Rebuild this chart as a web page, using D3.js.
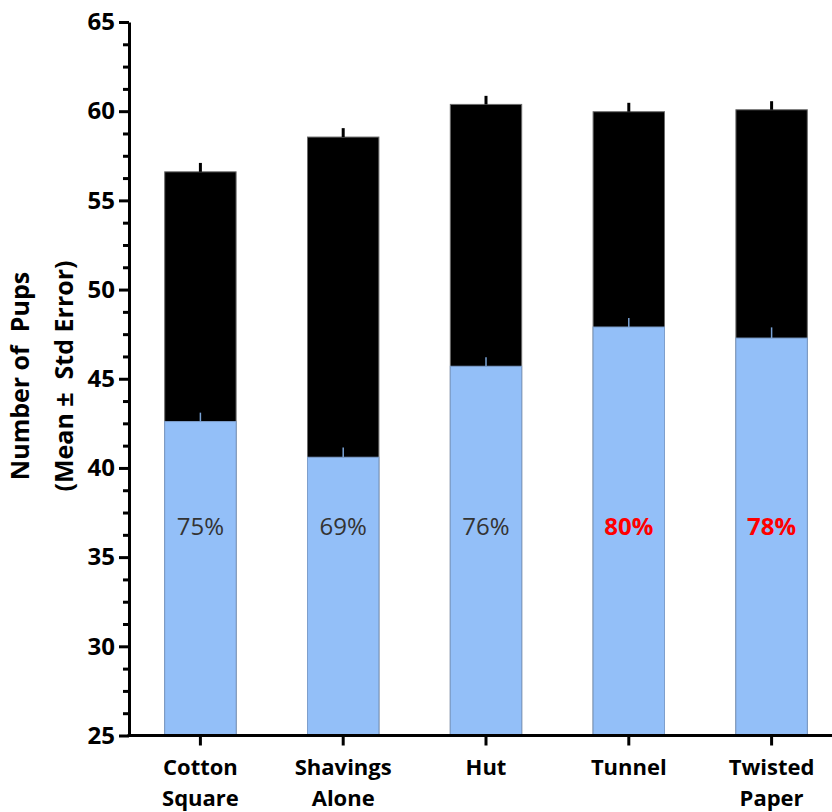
<!DOCTYPE html>
<html>
<head>
<meta charset="utf-8">
<script src="https://cdn.jsdelivr.net/npm/d3@7"></script>
<style>
	body { margin: 0; background: #fff; }
	svg text { font-family: "Open Sans", sans-serif; }
</style>
</head>
<body>
<svg id="chart" width="832" height="812"></svg>
<script>
var categories = [["Cotton", "Square"], ["Shavings", "Alone"], ["Hut"], ["Tunnel"], ["Twisted", "Paper"]];
var totalPups = [56.6, 58.55, 60.38, 59.97, 60.08];
var totalErr = [0.5, 0.5, 0.48, 0.5, 0.48];
var weanedPups = [42.6, 40.6, 45.7, 47.9, 47.28];
var weanedErr = [0.5, 0.55, 0.5, 0.5, 0.6];
var pctLabels = ["75%", "69%", "76%", "80%", "78%"];
var pctHighlight = [false, false, false, true, true];
var yTicks = [25, 30, 35, 40, 45, 50, 55, 60, 65];

var svg = d3.select("#chart");
var keys = categories.map(function(c) { return c.join(" "); });

var x = d3.scaleBand()
	.domain(keys)
	.range([129, 843])
	.paddingInner(0.5)
	.paddingOuter(0.25);

var y = d3.scaleLinear()
	.domain([25, 65])
	.range([735.5, 22]);

var base = y(25);

// black = total pups
svg.selectAll("rect.total")
	.data(totalPups)
	.enter().append("rect")
	.attr("class", "total")
	.attr("x", function(d, i) { return x(keys[i]); })
	.attr("width", x.bandwidth())
	.attr("y", function(d) { return y(d); })
	.attr("height", function(d) { return base - y(d); })
	.attr("fill", "#000")
	.attr("stroke", "#6b6b6b")
	.attr("stroke-width", 1);

svg.selectAll("line.totalErr")
	.data(totalPups)
	.enter().append("line")
	.attr("class", "totalErr")
	.attr("x1", function(d, i) { return x(keys[i]) + x.bandwidth() / 2; })
	.attr("x2", function(d, i) { return x(keys[i]) + x.bandwidth() / 2; })
	.attr("y1", function(d) { return y(d); })
	.attr("y2", function(d, i) { return y(d + totalErr[i]); })
	.attr("stroke", "#000")
	.attr("stroke-width", 3);

// blue = weaned pups
svg.selectAll("rect.weaned")
	.data(weanedPups)
	.enter().append("rect")
	.attr("class", "weaned")
	.attr("x", function(d, i) { return x(keys[i]); })
	.attr("width", x.bandwidth())
	.attr("y", function(d) { return y(d); })
	.attr("height", function(d) { return base - y(d); })
	.attr("fill", "#93bff8")
	.attr("stroke", "#7e9fcc")
	.attr("stroke-width", 1);

svg.selectAll("line.weanedErr")
	.data(weanedPups)
	.enter().append("line")
	.attr("class", "weanedErr")
	.attr("x1", function(d, i) { return x(keys[i]) + x.bandwidth() / 2; })
	.attr("x2", function(d, i) { return x(keys[i]) + x.bandwidth() / 2; })
	.attr("y1", function(d) { return y(d); })
	.attr("y2", function(d, i) { return y(d + weanedErr[i]); })
	.attr("stroke", "#7aa3d6")
	.attr("stroke-width", 1.5);

svg.selectAll("text.pct")
	.data(pctLabels)
	.enter().append("text")
	.attr("class", "pct")
	.attr("x", function(d, i) { return x(keys[i]) + x.bandwidth() / 2; })
	.attr("y", 535)
	.attr("text-anchor", "middle")
	.style("font-size", "24px")
	.style("font-weight", function(d, i) { return pctHighlight[i] ? "bold" : "normal"; })
	.attr("fill", function(d, i) { return pctHighlight[i] ? "#ff0000" : "#333"; })
	.text(function(d) { return d; });

// y axis, minor ticks first
var minor = d3.range(25, 65.01, 1.25).filter(function(v) { return yTicks.indexOf(v) < 0; });
svg.append("g")
	.attr("transform", "translate(129,0)")
	.call(d3.axisLeft(y).tickValues(minor).tickSize(6).tickFormat(""))
	.call(function(g) {
		g.select(".domain").remove();
		g.selectAll("line").attr("stroke-width", 3);
	});

svg.append("g")
	.attr("transform", "translate(129,0)")
	.call(d3.axisLeft(y).tickValues(yTicks).tickSize(10).tickSizeOuter(0).tickPadding(4))
	.call(function(g) {
		g.select(".domain").attr("stroke-width", 3);
		g.selectAll("line").attr("stroke-width", 3);
		g.selectAll("text")
			.style("font-family", "'Open Sans', sans-serif")
			.style("font-size", "24px")
			.style("font-weight", "bold")
			.attr("fill", "#000");
	});

// x axis
var xAxis = svg.append("g")
	.attr("transform", "translate(0," + base + ")")
	.call(d3.axisBottom(x).tickSize(10).tickSizeOuter(0).tickFormat(""));
xAxis.select(".domain").attr("stroke-width", 3).attr("d", "M127.5,0H843");
xAxis.selectAll("line").attr("stroke-width", 3);

xAxis.selectAll(".tick").each(function(d, i) {
	var t = d3.select(this).append("text")
		.attr("fill", "#000")
		.attr("text-anchor", "middle")
		.style("font-family", "'Open Sans', sans-serif")
		.style("font-size", "22px")
		.style("font-weight", "bold");
	categories[i].forEach(function(line, j) {
		t.append("tspan")
			.attr("x", 0)
			.attr("y", 39 + j * 31)
			.text(line);
	});
});

// y title
var yTitle = ["Number of  Pups", "(Mean \u00b1  Std Error)"];
svg.selectAll("text.ytitle")
	.data(yTitle)
	.enter().append("text")
	.attr("class", "ytitle")
	.attr("transform", function(d, i) { return "translate(" + (29 + i * 44) + ",376) rotate(-90)"; })
	.attr("text-anchor", "middle")
	.style("font-family", "'Open Sans', sans-serif")
	.style("font-size", "25px")
	.style("font-weight", "bold")
	.style("white-space", "pre")
	.attr("fill", "#000")
	.text(function(d) { return d; });
</script>
</body>
</html>
